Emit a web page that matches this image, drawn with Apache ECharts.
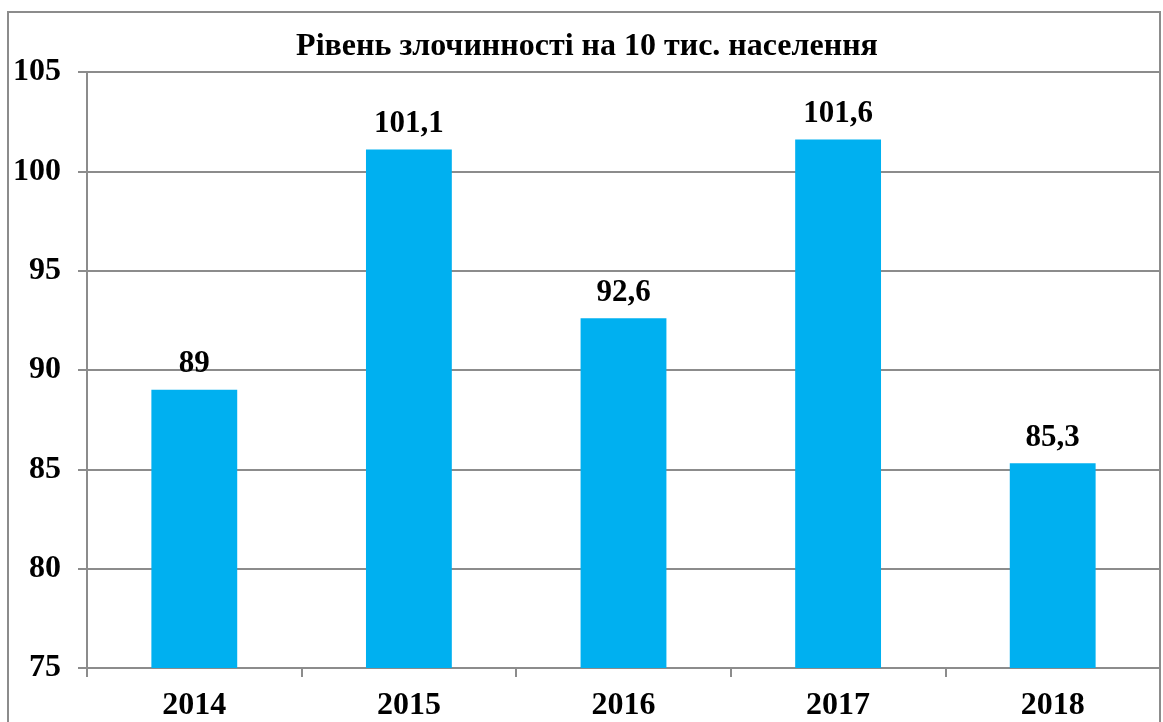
<!DOCTYPE html>
<html>
<head>
<meta charset="utf-8">
<script src="https://cdn.jsdelivr.net/npm/echarts@6/dist/echarts.min.js"></script>
<style>
  html, body { margin: 0; padding: 0; background: #fff; }
  #main { width: 1163px; height: 722px; }
</style>
</head>
<body>
<div id="main"></div>
<script>
// дані з діаграми
var years = ['2014', '2015', '2016', '2017', '2018'];
var crimeRate = [89, 101.1, 92.6, 101.6, 85.3];
var yMin = 75, yMax = 105, yStep = 5;

var serif = '"Liberation Serif", "Times New Roman", serif';
var myChart = echarts.init(document.getElementById('main'));

option = {
    backgroundColor: '#fff',
    animation: false,
    title: {
        text: 'Рівень злочинності на 10 тис. населення',
        left: 582,
        top: 26,
        textAlign: 'center',
        textStyle: {
            fontFamily: serif,
            fontWeight: 'bold',
            fontSize: 32,
            color: '#000'
        }
    },
    graphic: [
        {
            type: 'rect',
            shape: { x: 8, y: 12, width: 1152, height: 720 },
            style: { fill: null, stroke: '#8c8c8c', lineWidth: 2 },
            silent: true
        }
    ],
    grid: {
        left: 87,
        right: 3,
        top: 72,
        bottom: 53
    },
    xAxis: {
        type: 'category',
        data: years,
        axisLine: { lineStyle: { color: '#8c8c8c', width: 2 } },
        axisTick: { show: true, length: 9, lineStyle: { color: '#8c8c8c', width: 2 } },
        axisLabel: {
            fontFamily: serif,
            fontWeight: 'bold',
            fontSize: 32,
            color: '#000',
            margin: 22
        }
    },
    yAxis: {
        type: 'value',
        min: yMin,
        max: yMax,
        interval: yStep,
        axisLine: { show: true, lineStyle: { color: '#8c8c8c', width: 2 } },
        axisTick: { show: true, length: 9, lineStyle: { color: '#8c8c8c', width: 2 } },
        splitLine: { lineStyle: { color: '#8c8c8c', width: 2 } },
        axisLabel: {
            fontFamily: serif,
            fontWeight: 'bold',
            fontSize: 32,
            color: '#000',
            margin: 26
        }
    },
    series: [
        {
            type: 'bar',
            data: crimeRate,
            barWidth: '40%',
            itemStyle: { color: '#00b0f0' },
            label: {
                show: true,
                position: 'top',
                distance: 10,
                fontFamily: serif,
                fontWeight: 'bold',
                fontSize: 31,
                color: '#000',
                formatter: function (p) {
                    return String(p.value).replace('.', ',');
                }
            }
        }
    ]
};

myChart.setOption(option);
</script>
</body>
</html>
